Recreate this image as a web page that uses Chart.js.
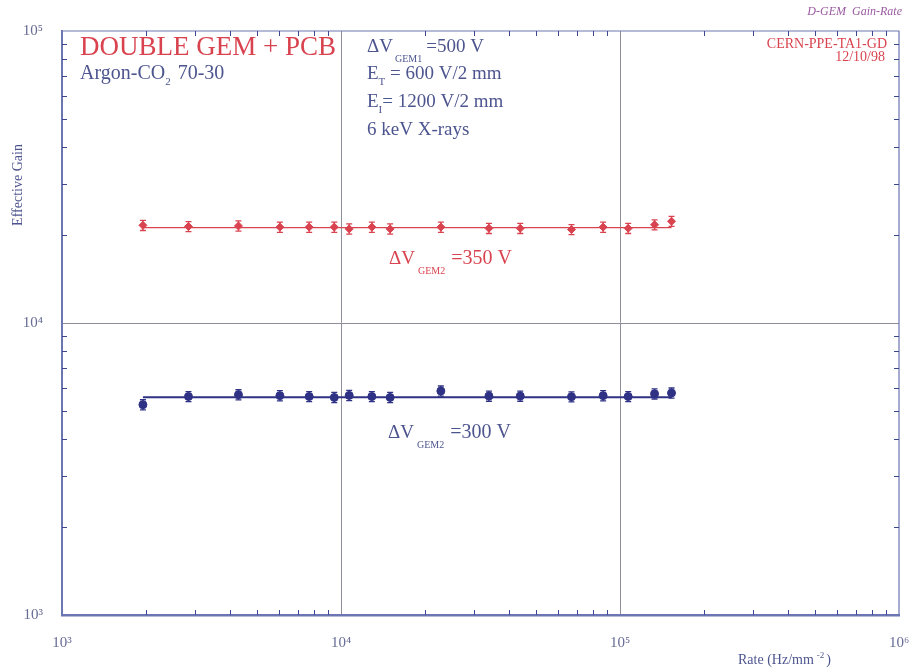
<!DOCTYPE html>
<html lang="en">
<head>
<meta charset="UTF-8">
<title>Double GEM gain vs rate</title>
<style>
  html, body { margin: 0; padding: 0; background: #fff; }
  #wrap { width: 914px; height: 670px; }
</style>
<script src="https://cdn.jsdelivr.net/npm/chart.js"></script>
</head>
<body>
<div id="wrap"><canvas id="gain" width="914" height="670"></canvas></div>
<script>
// rate in Hz/mm^2, same rates for both runs
const rates = [1950, 2840, 4290, 6040, 7690, 9460, 10700, 12900, 15000, 22800, 33900, 43900, 67000, 87000, 107000, 133000, 153000];
const gain350 = [21600, 21400, 21500, 21300, 21300, 21300, 21000, 21300, 21000, 21300, 21100, 21100, 20900, 21300, 21100, 21700, 22300];
const gain300 = [5250, 5600, 5680, 5640, 5600, 5560, 5650, 5600, 5560, 5850, 5620, 5620, 5590, 5640, 5600, 5720, 5760];
const fit350 = 21200;
const fit300 = 5570;
const errFrac = 0.04;
const xTicks = [1e3, 1e4, 1e5, 1e6];
const yTicks = [1e3, 1e4, 1e5];
const supers = {3: '\u00b3', 4: '\u2074', 5: '\u2075', 6: '\u2076'};

const RED = '#d9434f';
const BLUE = '#2f3284';
const TXT = '#4d558f';
const AXIS = '#6c76b3';
const SERIF = '"Liberation Serif", "DejaVu Serif", serif';

function powLabel(v) {
  const e = Math.round(Math.log10(v));
  return '10' + supers[e];
}

// draw a line of text made of parts, some of them sub/superscripted
function richText(ctx, x, y, parts, color) {
  ctx.fillStyle = color;
  ctx.textBaseline = 'alphabetic';
  ctx.textAlign = 'left';
  parts.forEach(p => {
    ctx.font = (p.italic ? 'italic ' : '') + p.size + 'px ' + SERIF;
    ctx.fillText(p.t, x, y + (p.dy || 0));
    x += ctx.measureText(p.t).width + (p.gap || 0);
  });
}

const errorBars = {
  id: 'errorBars',
  afterDatasetsDraw(chart) {
    const ctx = chart.ctx;
    const xs = chart.scales.x, ys = chart.scales.y;
    chart.data.datasets.forEach(ds => {
      if (!ds.errBars) return;
      ctx.save();
      ctx.strokeStyle = ds.borderColor;
      ctx.lineWidth = 1.3;
      ds.data.forEach(p => {
        const px = xs.getPixelForValue(p.x);
        const top = ys.getPixelForValue(p.y * (1 + errFrac));
        const bot = ys.getPixelForValue(p.y * (1 - errFrac));
        ctx.beginPath();
        ctx.moveTo(px, top); ctx.lineTo(px, bot);
        ctx.moveTo(px - 3, top); ctx.lineTo(px + 3, top);
        ctx.moveTo(px - 3, bot); ctx.lineTo(px + 3, bot);
        ctx.stroke();
      });
      ctx.restore();
    });
  }
};

const frameAndText = {
  id: 'frameAndText',
  afterDraw(chart) {
    const ctx = chart.ctx;
    const a = chart.chartArea;
    const xs = chart.scales.x, ys = chart.scales.y;
    ctx.save();
    // top / right frame
    ctx.strokeStyle = AXIS;
    ctx.lineWidth = 1.2;
    ctx.beginPath();
    ctx.moveTo(a.left, a.top); ctx.lineTo(a.right, a.top); ctx.lineTo(a.right, a.bottom);
    ctx.stroke();
    // minor ticks, pointing inward, on all four sides
    ctx.strokeStyle = '#3d4790';
    ctx.lineWidth = 1;
    ctx.beginPath();
    for (let d = 3; d <= 5; d++) {
      for (let m = 2; m <= 9; m++) {
        const px = Math.round(xs.getPixelForValue(m * Math.pow(10, d))) + 0.5;
        ctx.moveTo(px, a.bottom); ctx.lineTo(px, a.bottom - 5);
        ctx.moveTo(px, a.top); ctx.lineTo(px, a.top + 5);
      }
    }
    for (let d = 3; d <= 4; d++) {
      for (let m = 2; m <= 9; m++) {
        const py = Math.round(ys.getPixelForValue(m * Math.pow(10, d))) + 0.5;
        ctx.moveTo(a.left, py); ctx.lineTo(a.left + 5, py);
        ctx.moveTo(a.right, py); ctx.lineTo(a.right - 5, py);
      }
    }
    ctx.stroke();

    // annotations
    ctx.fillStyle = RED;
    ctx.font = '27px ' + SERIF;
    ctx.fillText('DOUBLE GEM + PCB', 80, 55, 262);
    richText(ctx, 80, 79, [{t: 'Argon-CO', size: 20}, {t: '2', size: 11, dy: 6, gap: 7}, {t: '70-30', size: 20}], TXT);

    richText(ctx, 367, 52, [{t: '\u0394V', size: 19, gap: 2}, {t: 'GEM1', size: 10, dy: 10, gap: 4}, {t: '=500 V', size: 19}], TXT);
    richText(ctx, 367, 79, [{t: 'E', size: 19}, {t: 'T', size: 11, dy: 6}, {t: ' = 600 V/2 mm', size: 19}], TXT);
    richText(ctx, 367, 107, [{t: 'E', size: 19}, {t: 'I', size: 11, dy: 6}, {t: '= 1200 V/2 mm', size: 19}], TXT);
    richText(ctx, 367, 135, [{t: '6 keV X-rays', size: 19}], TXT);

    richText(ctx, 389, 264, [{t: '\u0394V', size: 19, gap: 3}, {t: 'GEM2', size: 10, dy: 10, gap: 6}, {t: '=350 V', size: 20}], RED);
    richText(ctx, 388, 438, [{t: '\u0394V', size: 19, gap: 3}, {t: 'GEM2', size: 10, dy: 10, gap: 6}, {t: '=300 V', size: 20}], TXT);

    ctx.textAlign = 'right';
    ctx.fillStyle = '#9a5aa0';
    ctx.font = 'italic 12px ' + SERIF;
    ctx.fillText('D-GEM  Gain-Rate', 902, 15);
    ctx.fillStyle = RED;
    ctx.font = '14px ' + SERIF;
    ctx.fillText('CERN-PPE-TA1-GD', 887, 48);
    ctx.fillText('12/10/98', 885, 61);

    // axis titles
    ctx.save();
    ctx.translate(22, 185);
    ctx.rotate(-Math.PI / 2);
    ctx.textAlign = 'center';
    ctx.fillStyle = TXT;
    ctx.font = '14px ' + SERIF;
    ctx.fillText('Effective Gain', 0, 0);
    ctx.restore();
    richText(ctx, 738, 664, [{t: 'Rate (Hz/mm', size: 14, gap: 3}, {t: '-2', size: 9, dy: -6, gap: 2}, {t: ')', size: 14}], TXT);
    ctx.restore();
  }
};

new Chart(document.getElementById('gain'), {
  type: 'scatter',
  data: {
    datasets: [
      {
        data: rates.map((x, i) => ({x: x, y: gain350[i]})),
        pointStyle: 'rectRot', pointRadius: 4, backgroundColor: RED, borderColor: RED,
        errBars: true
      },
      {
        data: rates.map((x, i) => ({x: x, y: gain300[i]})),
        pointStyle: 'circle', pointRadius: 4, backgroundColor: BLUE, borderColor: BLUE,
        errBars: true
      },
      {
        data: [{x: rates[0], y: fit350}, {x: rates[rates.length - 1], y: fit350}],
        showLine: true, pointRadius: 0, borderColor: RED, borderWidth: 1.3
      },
      {
        data: [{x: rates[0], y: fit300}, {x: rates[rates.length - 1], y: fit300}],
        showLine: true, pointRadius: 0, borderColor: BLUE, borderWidth: 2
      }
    ]
  },
  options: {
    responsive: false,
    animation: false,
    devicePixelRatio: 1,
    layout: { padding: { top: 31, right: 15, left: 0, bottom: 0 } },
    plugins: { legend: { display: false }, tooltip: { enabled: false } },
    scales: {
      x: {
        type: 'logarithmic', min: 1e3, max: 1e6,
        afterBuildTicks: s => { s.ticks = xTicks.map(v => ({value: v})); },
        afterFit: s => { s.height = 55; s.paddingLeft = 0; s.paddingRight = 0; },
        ticks: { callback: v => powLabel(v), color: '#676c95', padding: 19, maxRotation: 0,
                 font: { family: SERIF, size: 15 } },
        grid: { drawTicks: false,
                color: c => (c.tick && (c.tick.value === 1e4 || c.tick.value === 1e5)) ? '#8e8e9a' : 'rgba(0,0,0,0)' },
        border: { color: AXIS, width: 2.5 }
      },
      y: {
        type: 'logarithmic', min: 1e3, max: 1e5,
        afterBuildTicks: s => { s.ticks = yTicks.map(v => ({value: v})); },
        afterFit: s => { s.width = 62; s.paddingTop = 0; s.paddingBottom = 0; },
        ticks: { callback: v => powLabel(v), color: '#676c95', padding: 19,
                 font: { family: SERIF, size: 15 } },
        grid: { drawTicks: false,
                color: c => (c.tick && c.tick.value === 1e4) ? '#8e8e9a' : 'rgba(0,0,0,0)' },
        border: { color: AXIS, width: 2 }
      }
    }
  },
  plugins: [errorBars, frameAndText]
});
</script>
</body>
</html>
